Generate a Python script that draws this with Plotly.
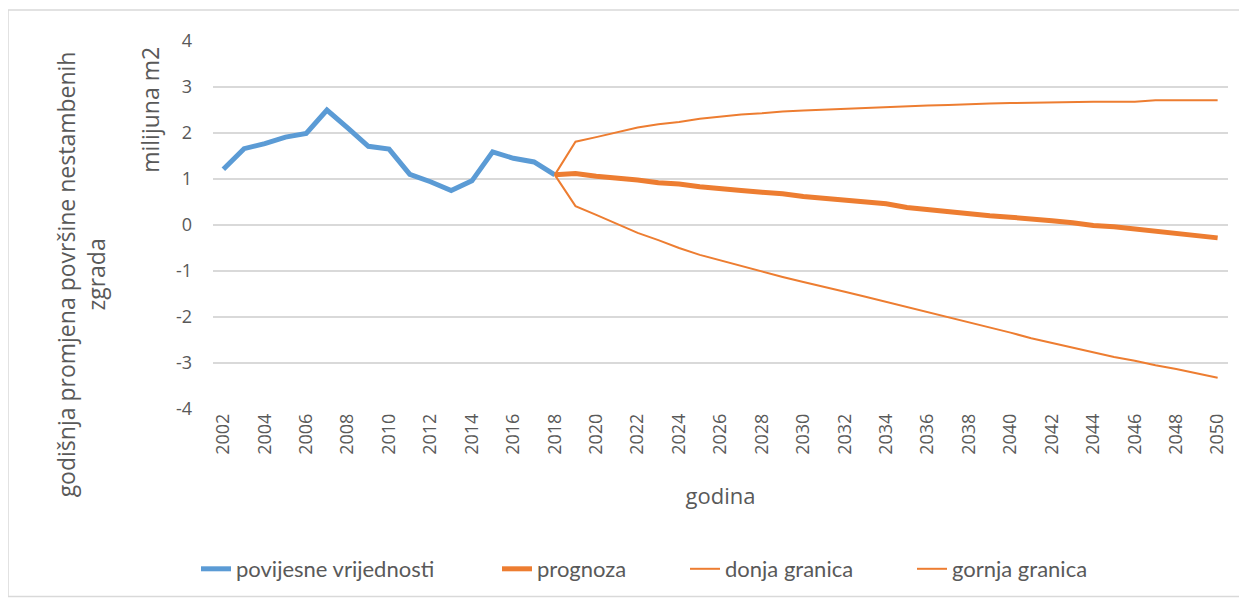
import plotly.graph_objects as go

hist_years = list(range(2002, 2019))
hist_values = [1.21, 1.66, 1.77, 1.91, 1.99, 2.50, 2.11, 1.71, 1.65, 1.10, 0.94, 0.75, 0.96, 1.59, 1.45, 1.37, 1.09]

fc_years = list(range(2018, 2051))
prognoza = [1.09, 1.12, 1.06, 1.03, 0.98, 0.92, 0.89, 0.83, 0.80, 0.75, 0.71, 0.68, 0.62, 0.58, 0.55, 0.49,
            0.46, 0.38, 0.33, 0.30, 0.25, 0.20, 0.17, 0.12, 0.09, 0.05, -0.01, -0.04, -0.09, -0.14, -0.18, -0.23, -0.28]
donja = [1.09, 0.41, 0.22, 0.02, -0.17, -0.33, -0.50, -0.65, -0.77, -0.90, -1.02, -1.13, -1.24, -1.34, -1.45, -1.56,
         -1.67, -1.79, -1.90, -2.01, -2.12, -2.23, -2.34, -2.46, -2.56, -2.67, -2.76, -2.87, -2.95, -3.05, -3.13, -3.23, -3.32]
gornja = [1.09, 1.81, 1.91, 2.02, 2.12, 2.19, 2.24, 2.31, 2.36, 2.40, 2.43, 2.47, 2.49, 2.51, 2.53, 2.55,
          2.56, 2.58, 2.60, 2.61, 2.63, 2.64, 2.65, 2.66, 2.66, 2.68, 2.68, 2.68, 2.68, 2.71, 2.71, 2.71, 2.71]

x_ticks = list(range(2002, 2051, 2))
y_ticks = [4, 3, 2, 1, 0, -1, -2, -3, -4]
y_tick_text = ["4", "3", "2", "1", "0", "-1", "-2", "-3", "-4"]

BLUE = "#5B9BD5"
ORANGE = "#ED7D31"
TXT = "#595959"
FONT = "Open Sans"
LFONT = "Lato"

# page body has an 8px margin
OFF = 8
W, H = 1239, 593
ml, mr, mt, mb = 205, 19, 33, 191
pw, ph = W - ml - mr, H - mt - mb


def px_x(p):
    return (p - OFF - ml) / pw


def px_y(p):
    return (H - mb - (p - OFF)) / ph


fig = go.Figure()
fig.add_trace(go.Scatter(x=hist_years, y=hist_values, mode="lines", name="povijesne vrijednosti",
                         line=dict(color=BLUE, width=5), legend="legend"))
fig.add_trace(go.Scatter(x=fc_years, y=prognoza, mode="lines", name="prognoza",
                         line=dict(color=ORANGE, width=5), legend="legend2"))
fig.add_trace(go.Scatter(x=fc_years, y=donja, mode="lines", name="donja granica",
                         line=dict(color=ORANGE, width=2), legend="legend3"))
fig.add_trace(go.Scatter(x=fc_years, y=gornja, mode="lines", name="gornja granica",
                         line=dict(color=ORANGE, width=2), legend="legend4"))


def leg(xpage):
    return dict(orientation="h", x=px_x(xpage), y=px_y(569), xanchor="left", yanchor="middle",
                font=dict(family=LFONT, size=22, color=TXT), bgcolor="rgba(0,0,0,0)",
                borderwidth=0)


fig.update_layout(
    width=W, height=H,
    margin=dict(l=ml, r=mr, t=mt, b=mb),
    paper_bgcolor="white", plot_bgcolor="white",
    font=dict(family=FONT, color=TXT, size=17),
    showlegend=True,
    legend=leg(196),
    legend2=leg(497),
    legend3=leg(685),
    legend4=leg(912),
    xaxis=dict(range=[2001.5, 2050.5], tickmode="array", tickvals=x_ticks,
               ticktext=[str(v) for v in x_ticks], tickangle=-90, showgrid=False, zeroline=False,
               showline=False, ticks="", tickfont=dict(size=18, color=TXT),
               title=dict(text="godina", font=dict(size=22, color=TXT), standoff=34)),
    yaxis=dict(range=[-4, 4], tickmode="array", tickvals=y_ticks, ticktext=y_tick_text, showgrid=True,
               gridcolor="#D9D9D9", gridwidth=2, zeroline=False, showline=False, ticks="",
               tickfont=dict(size=18, color=TXT), ticklabelstandoff=20),
    shapes=[dict(type="rect", xref="paper", yref="paper", x0=px_x(8), x1=px_x(1240),
                 y0=px_y(598), y1=px_y(10), line=dict(color="#D9D9D9", width=1.5),
                 fillcolor="rgba(0,0,0,0)", layer="below")],
    annotations=[
        dict(text="godišnja promjena površine nestambenih<br>zgrada", textangle=-90,
             xref="paper", yref="paper", x=px_x(81), y=px_y(275), xanchor="center", yanchor="middle",
             showarrow=False, font=dict(size=23, color=TXT)),
        dict(text="milijuna m2", textangle=-90,
             xref="paper", yref="paper", x=px_x(150), y=px_y(110), xanchor="center", yanchor="middle",
             showarrow=False, font=dict(size=23, color=TXT)),
    ],
)

fig.write_html("out.html")
